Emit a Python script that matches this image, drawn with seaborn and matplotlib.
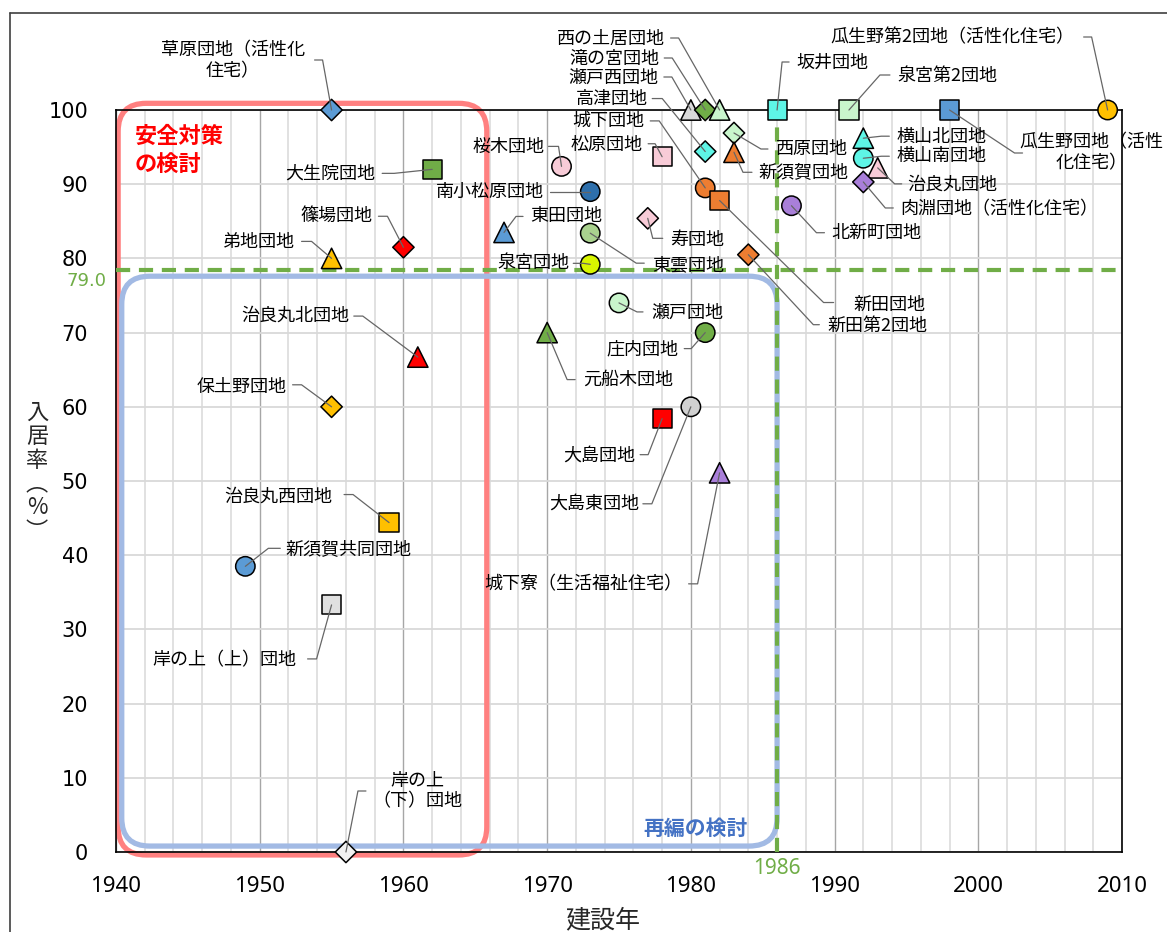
import numpy as np
import pandas as pd
import matplotlib
matplotlib.use("Agg")
import matplotlib.pyplot as plt
import seaborn as sns
from matplotlib.patches import FancyBboxPatch
from matplotlib.lines import Line2D
from matplotlib.transforms import IdentityTransform

# ---- data ----
names = [
    "草原団地（活性化\n住宅）", "大生院団地", "篠場団地", "弟地団地", "治良丸北団地",
    "保土野団地", "治良丸西団地", "新須賀共同団地", "岸の上（上）団地", "岸の上\n（下）団地",
    "桜木団地", "南小松原団地", "東田団地", "東雲団地", "泉宮団地",
    "松原団地", "寿団地", "高津団地", "瀬戸西団地", "滝の宮団地",
    "西の土居団地", "城下団地", "新田団地", "新田第2団地", "西原団地",
    "新須賀団地", "坂井団地", "泉宮第2団地", "瓜生野第2団地（活性化住宅）", "瓜生野団地（活性\n化住宅）",
    "横山北団地", "横山南団地", "治良丸団地", "肉淵団地（活性化住宅）", "北新町団地",
    "瀬戸団地", "庄内団地", "元船木団地", "大島東団地", "大島団地",
    "城下寮（生活福祉住宅）",
]
years = [
    1955, 1962, 1960, 1955, 1961,
    1955, 1959, 1949, 1955, 1956,
    1971, 1973, 1967, 1973, 1973,
    1978, 1977, 1981, 1980, 1981,
    1982, 1981, 1982, 1984, 1983,
    1983, 1986, 1991, 2009, 1998,
    1992, 1992, 1993, 1992, 1987,
    1975, 1981, 1970, 1980, 1978,
    1982,
]
rates = [
    100.0, 92.0, 81.5, 80.0, 66.7,
    60.0, 44.4, 38.5, 33.3, 0.0,
    92.4, 89.0, 83.5, 83.4, 79.2,
    93.7, 85.4, 94.4, 100.0, 100.0,
    100.0, 89.5, 87.8, 80.5, 96.9,
    94.3, 100.0, 100.0, 100.0, 100.0,
    96.2, 93.5, 92.2, 90.3, 87.1,
    74.0, 70.0, 70.0, 60.0, 58.4,
    51.1,
]
shapes = [
    "diamond", "square", "diamond", "triangle", "triangle",
    "diamond", "square", "circle", "square", "diamond",
    "circle", "circle", "triangle", "circle", "circle",
    "square", "diamond", "diamond", "triangle", "diamond",
    "triangle", "circle", "square", "diamond", "diamond",
    "triangle", "square", "square", "circle", "square",
    "triangle", "circle", "triangle", "diamond", "circle",
    "circle", "circle", "triangle", "circle", "square",
    "triangle",
]
colors = [
    "#5B9BD5", "#70AD47", "#FF0000", "#FFC000", "#FF0000",
    "#FFC000", "#FFC000", "#5B9BD5", "#E0E0E0", "#F2F2F2",
    "#F8CBD7", "#2E6FAB", "#5B9BD5", "#A9D18E", "#D8F500",
    "#F8CBD7", "#F8CBD7", "#5EF5E6", "#D9D9D9", "#70AD47",
    "#C9F5CC", "#ED7D31", "#ED7D31", "#ED7D31", "#C9F5CC",
    "#ED7D31", "#5EF5E6", "#C9F5CC", "#FFC000", "#5B9BD5",
    "#5EF5E6", "#5EF5E6", "#F8CBD7", "#A97FD9", "#A97FD9",
    "#C9F5CC", "#70AD47", "#70AD47", "#D0D0D0", "#FF0000",
    "#A97FD9",
]
threshold_rate = 79.0
threshold_line = 78.5
threshold_year = 1986

# label placement in pixels relative to the marker (y up):
# text dx, text dy, ha, elbow dx, elbow dy, tick-end dx
label_layout = [
    (-99, 49, "center", -9, 50, -17), (-57, -4, "right", -38, -4, -50),
    (-31, 31, "right", -16, 31, -25), (-37, 16, "right", -20, 17, -30),
    (-69, 41, "right", -55, 41, -64), (-45, 20, "right", -30, 22, -39),
    (-57, 26, "right", -36, 28, -45), (40, 17, "left", 23, 18, 35),
    (-35, -55, "right", -15, -54, -24), (71, 61, "center", 12, 61, 20),
    (-17, 19, "right", -3, 20, -13), (-46, 0, "right", -30, 0, -40),
    (26, 16, "left", 12, 16, 19), (62, -32, "left", 46, -30, 54),
    (-21, 1, "right", -7, 1, -17), (-20, 12, "right", -7, 13, -14),
    (22, -22, "left", 5, -20, 15), (-57, 53, "right", -43, 53, -53),
    (-32, 32, "right", -19, 33, -27), (-46, 51, "right", -33, 52, -41),
    (-55, 71, "right", -41, 72, -49), (-61, 67, "right", -46, 67, -55),
    (134, -104, "left", 104, -102, 114), (79, -71, "left", 65, -70, 71),
    (42, -16, "left", 27, -16, 34), (24, -20, "left", 9, -20, 18),
    (19, 47, "left", 5, 48, 12), (48, 34, "left", 31, 35, 41),
    (-33, 73, "right", -16, 73, -24), (142, -43, "center", 65, -43, 73),
    (33, 1, "left", 18, 2, 26), (33, 2, "left", 18, 2, 26),
    (30, -17, "left", 17, -16, 24), (37, -27, "left", 22, -26, 30),
    (40, -27, "left", 25, -27, 33), (32, -10, "left", 18, -9, 24),
    (-27, -17, "right", -14, -16, -21), (36, -47, "left", 20, -47, 28),
    (-52, -97, "right", -39, -97, -48), (-27, -37, "right", -14, -36, -22),
    (-37, -111, "right", -22, -111, -31),
]

df = pd.DataFrame({"name": names, "year": years, "rate": rates,
                   "shape": shapes, "color": colors})

sns.set_theme(style="white")
plt.rcParams["font.family"] = ["Noto Sans CJK JP", "DejaVu Sans"]

W, H = 1167, 932
fig = plt.figure(figsize=(W / 100, H / 100), dpi=100)
ax = fig.add_axes([116 / W, 1 - 852 / H, (1122 - 116) / W, (852 - 110) / H])
ax.set_xlim(1940, 2010)
ax.set_ylim(0, 100)

# grid
ax.set_xticks(range(1940, 2011, 10))
ax.set_xticks(range(1940, 2011, 2), minor=True)
ax.set_yticks(range(0, 101, 10))
ax.grid(which="minor", axis="x", color="#D9D9D9", lw=1.1)
ax.grid(which="major", axis="x", color="#A6A6A6", lw=1.0)
ax.grid(which="major", axis="y", color="#D9D9D9", lw=1.3)
ax.set_axisbelow(True)
ax.tick_params(which="both", length=0)
ax.tick_params(axis="x", pad=17, labelsize=16, labelcolor="black")
ax.tick_params(axis="y", pad=20, labelsize=15, labelcolor="black")
for lbl in ax.get_xticklabels():
    lbl.set_fontfamily("Noto Sans")
for lbl in ax.get_yticklabels():
    lbl.set_fontfamily("DejaVu Sans")
for sp in ax.spines.values():
    sp.set_color("black")
    sp.set_linewidth(1.2)


def to_px(x, y):
    return ax.transData.transform((x, y))


# rounded frames (drawn in pixels so corners stay round)
def round_box(x0, y0, x1, y1, color):
    (a, b), (c, d) = to_px(x0, y0), to_px(x1, y1)
    box = FancyBboxPatch((a, b), c - a, d - b, boxstyle="round,pad=0,rounding_size=28",
                         fc="none", ec=color, lw=3.8, transform=IdentityTransform(),
                         clip_on=False, zorder=2)
    ax.add_patch(box)


round_box(1940.15, -0.4, 1965.8, 100.9, "#FF8080")
round_box(1940.4, 0.8, threshold_year, 77.6, "#A2BAE4")

# threshold lines
ax.axhline(threshold_line, color="#70AD47", lw=3.0, ls=(0, (3.4, 2.1)), zorder=3)
ax.axvline(threshold_year, color="#70AD47", lw=3.0, ls=(0, (3.4, 2.1)), zorder=3)
ax.annotate(f"{threshold_rate:.1f}", xy=(0, threshold_line), xycoords=ax.get_yaxis_transform(),
            xytext=(-9, -11), textcoords="offset pixels", ha="right", va="center",
            color="#70AD47", fontsize=13, family="DejaVu Sans", annotation_clip=False)
ax.text(threshold_year, -0.022, str(threshold_year), transform=ax.get_xaxis_transform(),
        ha="center", va="center", color="#70AD47", fontsize=15, family="Noto Sans")

# markers
marker_map = {"circle": "o", "square": "s", "diamond": "D", "triangle": "^"}
size_map = {"circle": 195, "square": 190, "diamond": 118, "triangle": 215}
sns.scatterplot(data=df, x="year", y="rate", hue="color",
                palette={c: c for c in colors}, style="shape", markers=marker_map,
                size="shape", sizes=size_map, edgecolor="black", linewidth=1.1,
                legend=False, ax=ax, zorder=5, clip_on=False)

# labels with leader lines
inv = ax.transData.inverted()
for name, x, y, (tdx, tdy, ha, ex, ey, kx) in zip(names, years, rates, label_layout):
    px, py = to_px(x, y)
    path = inv.transform([(px, py), (px + ex, py + ey), (px + kx, py + ey)])
    ax.plot(path[:, 0], path[:, 1], color="#666666", lw=0.9, zorder=6, clip_on=False)
    ax.annotate(name, xy=(x, y), xytext=(tdx, tdy), textcoords="offset pixels",
                ha=ha, va="center", fontsize=13, color="black", zorder=7,
                annotation_clip=False)

ax.set_xlim(1940, 2010)
ax.set_ylim(0, 100)
ax.set_xlabel("")
ax.set_ylabel("")

# region captions
fig.text(135 / W, 1 - 151 / H, "安全対策\nの検討", ha="left", va="center", fontsize=16,
         fontweight="bold", color="#FF0000", linespacing=1.3)
fig.text(643 / W, 1 - 828 / H, "再編の検討", ha="left", va="center", fontsize=15,
         fontweight="bold", color="#4472C4")

# axis titles
fig.text(603 / W, 1 - 920 / H, "建設年", ha="center", va="center", fontsize=18)
fig.text(37 / W, 1 - 472 / H, "入\n居\n率\n︵\n%\n︶", ha="center", va="center",
         fontsize=16, linespacing=1.05)

# outer frame edge
fig.add_artist(Line2D([10 / W, 10 / W], [0, 1 - 13 / H], transform=fig.transFigure,
                      color="#404040", lw=1.2))
fig.add_artist(Line2D([10 / W, 1], [1 - 13 / H, 1 - 13 / H], transform=fig.transFigure,
                      color="#404040", lw=1.2))

fig.savefig("out.png", dpi=100)
